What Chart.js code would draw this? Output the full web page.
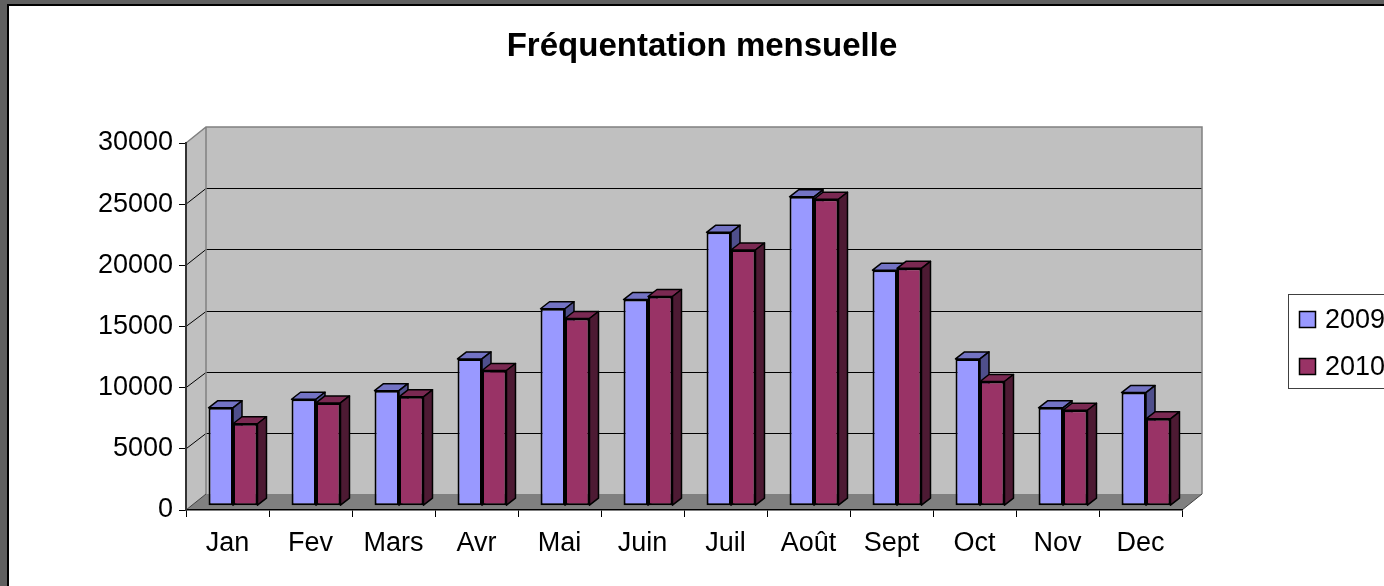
<!DOCTYPE html>
<html><head><meta charset="utf-8">
<script src="https://cdn.jsdelivr.net/npm/chart.js@4.4.1/dist/chart.umd.min.js"></script>
<style>
html,body{margin:0;padding:0;overflow:hidden;background:#606060;width:1384px;height:586px}
canvas{display:block;position:absolute;left:0;top:0}
</style>
</head><body>
<canvas id="c" width="1404" height="586"></canvas>
<script>
// ---- data ----
const categories = ['Jan','Fev','Mars','Avr','Mai','Juin','Juil','Août','Sept','Oct','Nov','Dec'];
const values2009 = [8000, 8700, 9400, 12000, 16100, 16850, 22350, 25250, 19250, 12000, 8000, 9250];
const values2010 = [6700, 8400, 8900, 11050, 15300, 17100, 20900, 25050, 19400, 10150, 7800, 7100];
const seriesLabels = ['2009', '2010'];
const yTicks = [0, 5000, 10000, 15000, 20000, 25000, 30000];
const titleText = 'Fréquentation mensuelle';

// ---- styles ----
const FONT = "'Liberation Sans', Arial, sans-serif";
const frontColors = ['#9999FF', '#993366'];
const topColors = ['#7373C4', '#7A2952'];
const sideColors = ['#4F4F8C', '#4D1A33'];
const WALL_DX = 20, WALL_DY = -16;   // back wall offset
const BAR_DX = 5.5, BAR_DY = -4.3;   // bar front plane offset
const DEPTH_DX = 9, DEPTH_DY = -7;   // bar depth
const CANVAS_W = 1404;
const PLOT_RIGHT = 1182;

function poly(ctx, pts) {
  ctx.beginPath();
  ctx.moveTo(pts[0][0], pts[0][1]);
  for (let i = 1; i < pts.length; i++) ctx.lineTo(pts[i][0], pts[i][1]);
  ctx.closePath();
}

const scenePlugin = {
  id: 'scene',
  beforeDraw(chart) {
    const ctx = chart.ctx, a = chart.chartArea, ys = chart.scales.y;
    ctx.save();
    ctx.fillStyle = '#606060'; ctx.fillRect(0, 0, chart.width, chart.height);
    ctx.fillStyle = '#000'; ctx.fillRect(7, 4, chart.width, chart.height);
    ctx.fillStyle = '#fff'; ctx.fillRect(9, 6, chart.width, chart.height);
    const L = a.left, R = a.right;
    const T = ys.getPixelForValue(yTicks[yTicks.length - 1]);
    const B = ys.getPixelForValue(0);
    // back wall
    ctx.fillStyle = '#C0C0C0';
    ctx.fillRect(L + WALL_DX, T + WALL_DY, R - L, B - T);
    // side wall
    poly(ctx, [[L, T], [L + WALL_DX, T + WALL_DY], [L + WALL_DX, B + WALL_DY], [L, B]]);
    ctx.fill();
    // floor
    ctx.fillStyle = '#808080';
    poly(ctx, [[L, B], [R, B], [R + WALL_DX, B + WALL_DY], [L + WALL_DX, B + WALL_DY]]);
    ctx.fill();
    // gridlines
    ctx.strokeStyle = '#000'; ctx.lineWidth = 1;
    yTicks.forEach(v => {
      if (v === 0 || v === yTicks[yTicks.length - 1]) return;
      const yy = Math.round(ys.getPixelForValue(v) + WALL_DY) + 0.5;
      ctx.beginPath();
      ctx.moveTo(L + WALL_DX, yy); ctx.lineTo(R + WALL_DX, yy);
      ctx.stroke();
      ctx.beginPath();
      ctx.moveTo(L, ys.getPixelForValue(v)); ctx.lineTo(L + WALL_DX, yy);
      ctx.stroke();
    });
    // wall edges
    ctx.strokeStyle = '#808080'; ctx.lineWidth = 1.5;
    ctx.beginPath();
    ctx.moveTo(L, T); ctx.lineTo(L + WALL_DX, T + WALL_DY);
    ctx.lineTo(R + WALL_DX, T + WALL_DY); ctx.lineTo(R + WALL_DX, B + WALL_DY);
    ctx.moveTo(L + WALL_DX, T + WALL_DY); ctx.lineTo(L + WALL_DX, B + WALL_DY);
    ctx.stroke();
    ctx.strokeStyle = '#404040'; ctx.lineWidth = 1;
    ctx.beginPath();
    ctx.moveTo(L, B); ctx.lineTo(L + WALL_DX, B + WALL_DY);
    ctx.moveTo(R, B); ctx.lineTo(R + WALL_DX, B + WALL_DY);
    ctx.stroke();
    ctx.restore();
  },
  beforeDatasetsDraw(chart) {
    // draw the library's bar elements in dataset order, shifted into the 3D plane,
    // and add the top / side faces from each element's own geometry
    const ctx = chart.ctx;
    ctx.save();
    ctx.translate(BAR_DX, BAR_DY);
    ctx.strokeStyle = '#000'; ctx.lineWidth = 1.5; ctx.lineJoin = 'round';
    const n = chart.data.labels.length;
    for (let j = 0; j < n; j++) {
      chart.data.datasets.forEach((ds, i) => {
        const meta = chart.getDatasetMeta(i);
        if (meta.hidden) return;
        const el = meta.data[j];
        if (!el) return;
        el.draw(ctx, chart.chartArea);
        const p = el.getProps(['x', 'y', 'base', 'width'], true);
        const l = p.x - p.width / 2, r = p.x + p.width / 2;
        ctx.strokeStyle = '#000'; ctx.lineWidth = 1.5;
        poly(ctx, [[l, p.y], [l + DEPTH_DX, p.y + DEPTH_DY], [r + DEPTH_DX, p.y + DEPTH_DY], [r, p.y]]);
        ctx.fillStyle = topColors[i]; ctx.fill(); ctx.stroke();
        poly(ctx, [[r, p.y], [r + DEPTH_DX, p.y + DEPTH_DY], [r + DEPTH_DX, p.base + DEPTH_DY], [r, p.base]]);
        ctx.fillStyle = sideColors[i]; ctx.fill(); ctx.stroke();
      });
    }
    ctx.restore();
    return false;
  },
  afterDraw(chart) {
    // legend box
    const ctx = chart.ctx;
    ctx.save();
    ctx.strokeStyle = '#404040'; ctx.lineWidth = 1;
    ctx.strokeRect(1288.5, 294.5, 120, 94);
    ctx.font = '27px ' + FONT;
    ctx.textBaseline = 'middle'; ctx.textAlign = 'left';
    const centers = [320, 367];
    chart.data.datasets.forEach((ds, k) => {
      const cy = centers[k];
      ctx.fillStyle = ds.backgroundColor;
      ctx.fillRect(1299.5, cy - 8.5, 16, 16);
      ctx.strokeStyle = '#000'; ctx.lineWidth = 1.5;
      ctx.strokeRect(1299.5, cy - 8.5, 16, 16);
      ctx.fillStyle = '#000';
      ctx.fillText(ds.label, 1325, cy + 1);
    });
    ctx.restore();
  }
};

new Chart(document.getElementById('c'), {
  type: 'bar',
  data: {
    labels: categories,
    datasets: [
      { label: seriesLabels[0], data: values2009, backgroundColor: frontColors[0], borderColor: '#000',
        borderWidth: 2, borderSkipped: false, categoryPercentage: 0.59, barPercentage: 1, clip: false },
      { label: seriesLabels[1], data: values2010, backgroundColor: frontColors[1], borderColor: '#000',
        borderWidth: 2, borderSkipped: false, categoryPercentage: 0.59, barPercentage: 1, clip: false }
    ]
  },
  options: {
    responsive: false,
    animation: false,
    layout: { padding: 0 },
    plugins: {
      legend: { display: false },
      tooltip: { enabled: false },
      title: {
        display: true, text: titleText, color: '#000',
        font: { family: FONT, size: 33, weight: 'bold', lineHeight: 1.2 },
        padding: { top: 27, bottom: 76.4 }
      }
    },
    scales: {
      x: {
        offset: true,
        grid: { offset: true, drawOnChartArea: false, drawTicks: true, tickLength: 7, color: '#000', lineWidth: 1 },
        border: { display: true, color: '#000', width: 1.5 },
        ticks: { font: { family: FONT, size: 27 }, color: '#000', padding: 10, maxRotation: 0, autoSkip: false },
        afterFit: s => { s.height = 76; }
      },
      y: {
        position: 'left', min: 0, max: 30000,
        grid: { drawOnChartArea: false, drawTicks: true, tickLength: 7, color: '#000', lineWidth: 1 },
        border: { display: true, color: '#333', width: 2 },
        ticks: { font: { family: FONT, size: 27 }, color: '#000', padding: 6, callback: v => String(v) },
        afterBuildTicks: s => { s.ticks = yTicks.map(v => ({ value: v })); },
        afterFit: s => { s.width = 186; }
      },
      yR: {
        position: 'right', display: true,
        grid: { display: false, drawTicks: false },
        border: { display: false },
        ticks: { display: false },
        afterFit: s => { s.width = CANVAS_W - PLOT_RIGHT; }
      }
    }
  },
  plugins: [scenePlugin]
});
</script>
</body></html>
